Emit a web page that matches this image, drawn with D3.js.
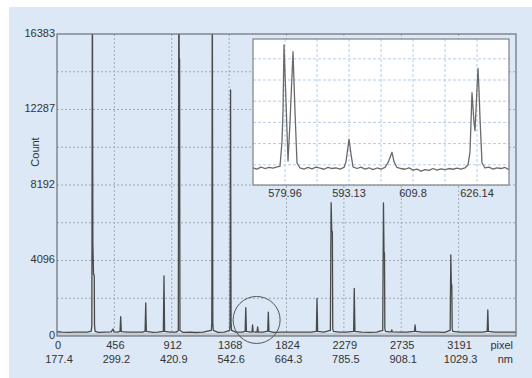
<!DOCTYPE html>
<html>
<head>
<meta charset="utf-8">
<script src="https://cdn.jsdelivr.net/npm/d3@7"></script>
<style>
  html, body { margin: 0; padding: 0; background: #fff; }
  svg { display: block; font-family: "Liberation Sans", Arial, sans-serif; }
  text { fill: #333; font-size: 11px; }
</style>
</head>
<body>
<svg id="chart" width="532" height="378"></svg>
<script>
// main spectrum: [pixel, count]
const spectrum = [
  [0, 230], [40, 210], [90, 200], [140, 215], [190, 205], [240, 210], [272, 260], [277, 600],
  [281, 20000], [285, 5000], [290, 3350], [296, 3300], [298, 600], [303, 250], [330, 200],
  [380, 210], [430, 225], [445, 380], [452, 220], [480, 205], [501, 250], [506, 1050], [511, 240],
  [560, 210], [620, 215], [680, 205], [700, 260], [705, 1790], [710, 250], [760, 200], [800, 210],
  [845, 250], [850, 3255], [855, 250], [900, 210], [950, 215], [964, 300], [968, 20000],
  [971, 15100], [974, 15000], [977, 300], [1000, 200], [1060, 215], [1100, 190], [1160, 205],
  [1226, 300], [1230, 700], [1234, 20000], [1238, 700], [1242, 300], [1280, 200], [1330, 210],
  [1372, 300], [1375, 700], [1379, 13350], [1383, 700], [1387, 300], [1420, 210], [1470, 205],
  [1495, 250], [1500, 1540], [1505, 250], [1540, 210], [1549, 220], [1554, 600], [1559, 220],
  [1589, 210], [1594, 490], [1600, 210], [1640, 205], [1674, 260], [1679, 1300], [1684, 250],
  [1720, 200], [1780, 215], [1840, 205], [1900, 210], [1960, 215], [2020, 205], [2061, 250],
  [2066, 2045], [2071, 250], [2120, 210], [2172, 300], [2178, 7230], [2183, 5700], [2188, 5650],
  [2191, 400], [2196, 250], [2240, 205], [2300, 210], [2357, 250], [2362, 2588], [2367, 250],
  [2420, 210], [2480, 200], [2540, 215], [2588, 300], [2594, 7215], [2598, 4573], [2602, 4500],
  [2605, 400], [2610, 250], [2640, 220], [2655, 230], [2660, 330], [2665, 220], [2720, 205],
  [2780, 210], [2840, 250], [2845, 600], [2850, 250], [2900, 215], [2960, 205], [3020, 210],
  [3080, 200], [3124, 300], [3129, 4394], [3133, 2800], [3137, 2767], [3140, 400], [3145, 250],
  [3200, 210], [3260, 205], [3320, 215], [3380, 210], [3418, 250], [3423, 1410], [3428, 250],
  [3480, 210], [3540, 205], [3600, 215], [3647, 210]
];

// zoomed region (inset): [pixel, count]
const insetSpectrum = [
  [1468, 170], [1472, 160], [1476, 178], [1480, 165], [1484, 175], [1488, 168], [1492, 180],
  [1495, 185], [1497, 420], [1498, 700], [1499, 1330], [1501, 800], [1503, 236], [1505, 600],
  [1508, 1267], [1510, 700], [1512, 217], [1515, 170], [1519, 160], [1523, 175], [1527, 162],
  [1531, 178], [1535, 168], [1539, 158], [1543, 175], [1547, 165], [1551, 172], [1555, 160],
  [1559, 175], [1561, 230], [1564, 441], [1566, 300], [1568, 180], [1572, 165], [1576, 178],
  [1580, 160], [1584, 172], [1588, 155], [1592, 170], [1596, 160], [1600, 175], [1603, 220],
  [1607, 318], [1609, 230], [1612, 175], [1616, 165], [1620, 158], [1624, 172], [1628, 150],
  [1632, 160], [1636, 140], [1640, 155], [1644, 148], [1648, 165], [1652, 150], [1656, 162],
  [1660, 155], [1664, 165], [1668, 158], [1672, 168], [1676, 160], [1680, 170], [1683, 200],
  [1685, 320], [1687, 880], [1689, 600], [1690, 522], [1693, 1110], [1694, 900], [1695, 642],
  [1697, 217], [1700, 170], [1704, 178], [1708, 160], [1712, 172], [1716, 165], [1720, 175],
  [1724, 155]
];

const pixelTicks = [0, 456, 912, 1368, 1824, 2279, 2735, 3191];
const nmLabels = ['177.4', '299.2', '420.9', '542.6', '664.3', '785.5', '908.1', '1029.3'];
const countTicks = [0, 4096, 8192, 12287, 16383];
const insetTicks = [1500, 1564, 1628, 1692];
const insetLabels = ['579.96', '593.13', '609.8', '626.14'];

(function () {
  'use strict';

  const svg = d3.select('#chart');

  // light blue panel
  svg.append('rect')
    .attr('x', 9).attr('y', 7)
    .attr('width', 523).attr('height', 371)
    .attr('fill', '#dce8f5');

  const x = d3.scaleLinear().domain([0, 3647]).range([57, 516]);
  const y = d3.scaleLinear().domain([0, 16383]).range([336, 34]);

  // grid
  const grid = svg.append('g')
    .attr('stroke', '#a3abb5')
    .attr('stroke-dasharray', '2,2')
    .attr('stroke-width', 1);

  d3.range(1, 8).map(i => 3647 * i / 8).forEach(v => {
    grid.append('line')
      .attr('x1', x(v)).attr('x2', x(v))
      .attr('y1', y(16383)).attr('y2', y(0));
  });
  d3.range(1, 8).map(i => 16383 * i / 8).forEach(v => {
    grid.append('line')
      .attr('x1', x(0)).attr('x2', x(3647))
      .attr('y1', y(v)).attr('y2', y(v));
  });

  // bottom band under the trace
  svg.append('rect')
    .attr('x', x(0)).attr('y', y(0) - 3)
    .attr('width', x(3647) - x(0)).attr('height', 3)
    .attr('fill', '#c7cdd5');

  svg.append('clipPath').attr('id', 'plotClip')
    .append('rect')
    .attr('x', x(0)).attr('y', y(16383))
    .attr('width', x(3647) - x(0)).attr('height', y(0) - y(16383));

  const line = d3.line()
    .x(d => x(d[0]))
    .y(d => y(d[1]));

  svg.append('path')
    .datum(spectrum)
    .attr('clip-path', 'url(#plotClip)')
    .attr('d', line)
    .attr('fill', 'none')
    .attr('stroke', '#4a4a4a')
    .attr('stroke-width', 1.3)
    .attr('stroke-linejoin', 'round');

  // plot frame
  svg.append('rect')
    .attr('x', x(0)).attr('y', y(16383))
    .attr('width', x(3647) - x(0)).attr('height', y(0) - y(16383))
    .attr('fill', 'none')
    .attr('stroke', '#6b6f75')
    .attr('stroke-width', 1.2);

  // y labels
  svg.append('g').selectAll('text')
    .data(countTicks)
    .join('text')
    .attr('x', 55)
    .attr('y', d => y(d) - 1)
    .attr('dy', '0.35em')
    .attr('text-anchor', 'end')
    .text(d => d);

  svg.append('text')
    .attr('transform', 'translate(39,152) rotate(-90)')
    .attr('text-anchor', 'middle')
    .text('Count');

  // x labels, two rows
  svg.append('g').selectAll('text')
    .data(pixelTicks)
    .join('text')
    .attr('x', d => x(d) + 1)
    .attr('y', 349)
    .attr('text-anchor', 'middle')
    .text(d => d);

  svg.append('g').selectAll('text')
    .data(nmLabels)
    .join('text')
    .attr('x', (d, i) => x(pixelTicks[i]) + 2)
    .attr('y', 363)
    .attr('text-anchor', 'middle')
    .text(d => d);

  svg.append('text').attr('x', 513).attr('y', 349).attr('text-anchor', 'end').text('pixel');
  svg.append('text').attr('x', 513).attr('y', 363).attr('text-anchor', 'end').text('nm');

  // circle around the zoomed region
  svg.append('circle')
    .attr('cx', x(1586)).attr('cy', y(870))
    .attr('r', 23.5)
    .attr('fill', 'none')
    .attr('stroke', '#555')
    .attr('stroke-width', 1);

  // inset
  const xi = d3.scaleLinear().domain([1468, 1724]).range([253, 509]);
  const yi = d3.scaleLinear().domain([0, 1400]).range([186, 37.6]);

  svg.append('rect')
    .attr('x', 253).attr('y', 39)
    .attr('width', 256).attr('height', 146)
    .attr('fill', '#fff');

  const igrid = svg.append('g')
    .attr('stroke', '#b3cce8')
    .attr('stroke-dasharray', '3,2')
    .attr('stroke-width', 1);

  d3.range(1500, 1724, 32).forEach(v => {
    igrid.append('line')
      .attr('x1', xi(v)).attr('x2', xi(v))
      .attr('y1', 39).attr('y2', 185);
  });
  d3.range(200, 1400, 200).forEach(v => {
    igrid.append('line')
      .attr('x1', 253).attr('x2', 509)
      .attr('y1', yi(v)).attr('y2', yi(v));
  });

  const iline = d3.line()
    .x(d => xi(d[0]))
    .y(d => yi(d[1]));

  svg.append('path')
    .datum(insetSpectrum)
    .attr('d', iline)
    .attr('fill', 'none')
    .attr('stroke', '#6a6a6a')
    .attr('stroke-width', 1.3)
    .attr('stroke-linejoin', 'round');

  svg.append('rect')
    .attr('x', 253).attr('y', 39)
    .attr('width', 256).attr('height', 146)
    .attr('fill', 'none')
    .attr('stroke', '#7d8188')
    .attr('stroke-width', 1.2);

  svg.append('g').selectAll('text')
    .data(insetLabels)
    .join('text')
    .attr('x', (d, i) => xi(insetTicks[i]))
    .attr('y', 197)
    .attr('text-anchor', 'middle')
    .text(d => d);
}());
</script>
</body>
</html>
